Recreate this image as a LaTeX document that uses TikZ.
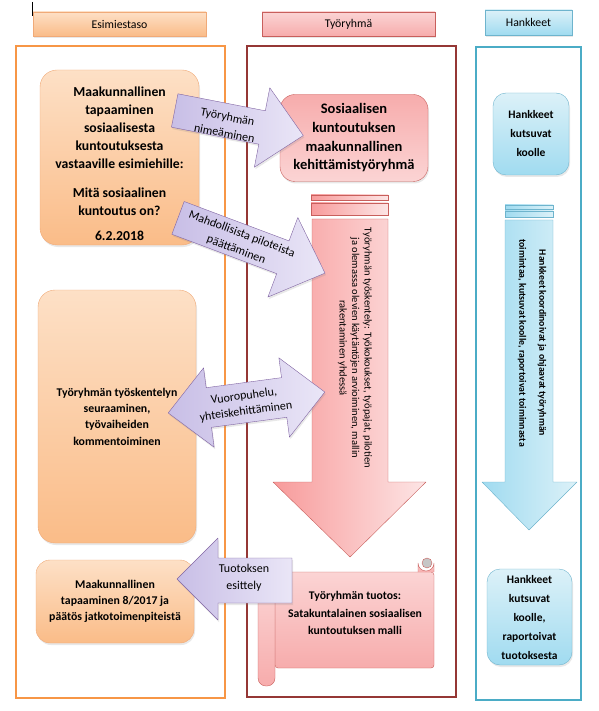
\documentclass[tikz,border=0pt]{standalone}
\usepackage{fontspec}
\setmainfont{Carlito}
\usepackage{tikz}
\usepackage{xcolor}
\usetikzlibrary{shadows, positioning}
\definecolor{esiline}{RGB}{247,150,70}
\definecolor{esiborder}{RGB}{240,170,120}
\definecolor{esitop}{RGB}{253,224,198}
\definecolor{esibot}{RGB}{250,188,136}
\definecolor{tyoline}{RGB}{149,55,53}
\definecolor{tyoborder}{RGB}{200,95,92}
\definecolor{tyotop}{RGB}{247,172,172}
\definecolor{tyobot}{RGB}{251,212,212}
\definecolor{hankline}{RGB}{75,172,198}
\definecolor{hankborder}{RGB}{110,180,205}
\definecolor{hanktop}{RGB}{220,241,248}
\definecolor{hankbot}{RGB}{160,219,240}
\definecolor{liline}{RGB}{128,100,162}
\definecolor{lidark}{RGB}{200,190,230}
\definecolor{lilight}{RGB}{234,230,247}
% block arrow: style, centre, angle, length, shaft width, head width, head length
\newcommand{\blkarrow}[7]{%
\draw[#1, shift={#2}, rotate=#3] (-#4/2,-#5/2) -- (#4/2-#7,-#5/2) -- (#4/2-#7,-#6/2)
  -- (#4/2,0) -- (#4/2-#7,#6/2) -- (#4/2-#7,#5/2) -- (-#4/2,#5/2) -- cycle;}

\begin{document}
\begin{tikzpicture}[x=1pt,y=-1pt,
  txt/.style={font=\fontsize{11.8}{16.3}\selectfont\bfseries, align=center},
  thin txt/.style={font=\fontsize{12}{16.5}\selectfont, align=center},
  head txt/.style={font=\fontsize{11.8}{14}\selectfont},
  shade/.style={drop shadow={opacity=0.18, shadow xshift=1pt, shadow yshift=-2pt}},
  esihead/.style={draw=esiborder, top color=esitop, bottom color=esibot, shade, head txt},
  tyohead/.style={draw=tyoborder, top color=tyobot, bottom color=tyotop, shade, head txt},
  hankhead/.style={draw=hankborder, top color=hanktop, bottom color=hankbot, shade, head txt},
  esibox/.style={draw=esiborder, top color=esitop, bottom color=esibot, rounded corners=17pt, shade, txt},
  tyobox/.style={draw=tyoborder, top color=tyotop, bottom color=tyobot, rounded corners=15pt, shade, txt},
  hankbox/.style={draw=hankborder, top color=hanktop, bottom color=hankbot, rounded corners=13pt, shade, txt},
  liarrow/.style={draw=liline, left color=lidark, right color=lilight, line join=round, shade},
  scrollpart/.style={draw=tyoborder, top color=tyobot, bottom color=tyotop},
]
\useasboundingbox (0,0) rectangle (598,711);
\draw[black, line width=0.8pt] (32,2) -- (32,16);

% lanes
\draw[esiline, line width=1.6pt] (16,46) rectangle (225,698);
\draw[tyoline, line width=1.6pt] (247,46) rectangle (456,697);
\draw[hankline, line width=1.6pt] (476,47) rectangle (581,700);
\node[esihead, minimum width=173pt, minimum height=24pt] (esi) at (119.5,24) {Esimiestaso};
\node[tyohead, minimum width=173pt, minimum height=24pt] (tyo) at (348.5,24) {Työryhmä};
\node[hankhead, minimum width=87pt, minimum height=25pt] (hank) at (528.5,22.5) {Hankkeet};

% left lane
\node[esibox, minimum width=159pt, minimum height=175pt] (meet) at (119.5,157.5) {};
\node[txt, font=\fontsize{13.7}{18}\selectfont\bfseries] (meettxt) at (119.5,164) {Maakunnallinen\\tapaaminen\\sosiaalisesta\\kuntoutuksesta\\vastaaville esimiehille:\\[11pt]Mitä sosiaalinen\\kuntoutus on?\\[7pt]6.2.2018};
\node[esibox, minimum width=158pt, minimum height=253pt] (follow) at (117,416.5) {Työryhmän työskentelyn\\seuraaminen,\\työvaiheiden\\kommentoiminen};
\node[esibox, minimum width=158pt, minimum height=83pt, rounded corners=14pt] (final) at (115,601.5) {Maakunnallinen\\tapaaminen 8/2017 ja\\päätös jatkotoimenpiteistä};

% middle lane
\node[tyobox, minimum width=148pt, minimum height=87pt, font=\fontsize{14.5}{18.7}\selectfont\bfseries] (group) at (354,138) {Sosiaalisen\\kuntoutuksen\\maakunnallinen\\kehittämistyöryhmä};
\draw[draw=tyoborder, left color=tyotop!90!red, right color=tyobot!60!white] (311,195) rectangle (388,200);
\draw[draw=tyoborder, left color=tyotop!90!red, right color=tyobot!60!white] (311,203) rectangle (388,215);
\draw[draw=tyoborder, left color=tyotop!90!red, right color=tyobot!60!white, line join=round] (312,219) -- (388,219) -- (388,482) -- (426,482)
  -- (350,557) -- (273,482) -- (312,482) -- cycle;
\node[font=\fontsize{10.5}{12.5}\selectfont, align=center, rotate=-90] (worktxt) at (355,348) {Työryhmän työskentely: Työkokoukset, työpajat, pilotien\\ja olemassa olevien käytäntöjen arvioiminen, mallin\\rakentaminen yhdessä};

% scroll
\draw[scrollpart, rounded corners=3pt] (275,572) rectangle (434,668);
\draw[scrollpart] (418,572) -- (418,563) arc (180:0:8) -- (434,572);
\draw[draw=tyoborder, fill=gray!45] (427,563) circle (5);
\draw[scrollpart, rounded corners=8pt] (258,580) rectangle (275,686);
\node[txt, font=\fontsize{11.7}{17.5}\selectfont\bfseries] (output) at (355,613) {Työryhmän tuotos:\\Satakuntalainen sosiaalisen\\kuntoutuksen malli};

% right lane
\node[hankbox, minimum width=76pt, minimum height=82pt, font=\fontsize{11.5}{19}\selectfont\bfseries] (invite) at (531,134) {Hankkeet\\kutsuvat\\koolle};
\draw[draw=hankborder, left color=hankbot, right color=hanktop] (505,205) rectangle (553,209);
\draw[draw=hankborder, left color=hankbot, right color=hanktop] (505,211) rectangle (553,217);
\draw[draw=hankborder, left color=hankbot, right color=hanktop, line join=round] (505,220) -- (553,220) -- (553,482) -- (577,482)
  -- (529,530) -- (482,482) -- (505,482) -- cycle;
\node[font=\fontsize{9.8}{20}\selectfont\bfseries, align=center, rotate=-90] (coordtxt) at (532,343) {Hankkeet koordinoivat ja ohjaavat työryhmän\\toimintaa, kutsuvat koolle, raportoivat toiminnasta};
\node[hankbox, minimum width=85pt, minimum height=96pt, font=\fontsize{11.5}{19}\selectfont\bfseries] (report) at (529.5,617) {Hankkeet\\kutsuvat\\koolle,\\raportoivat\\tuotoksesta};

% arrows between lanes
\blkarrow{liarrow}{(239,123)}{-11}{131}{34}{81}{42}
\node[thin txt, rotate=-11] (name) at (226,125) {Työryhmän\\nimeäminen};
\blkarrow{liarrow}{(251.5,245.5)}{-20.6}{157}{35}{85}{45}
\node[thin txt, rotate=-20.6] (pilot) at (239,242) {Mahdollisista piloteista\\päättäminen};
\draw[liarrow, shift={(246.5,402.5)}, rotate=7.6] (-79,0) -- (-38,-40) -- (-38,-20) -- (38,-20) -- (38,-40) -- (79,0)
  -- (38,40) -- (38,20) -- (-38,20) -- (-38,40) -- cycle;
\node[thin txt, font=\fontsize{12}{15.5}\selectfont, rotate=7.6] (dialog) at (245,404) {Vuoropuhelu,\\yhteiskehittäminen};
\draw[liarrow] (292,558) -- (218,558) -- (218,538) -- (177,579) -- (218,620) -- (218,603) -- (292,603) -- cycle;
\node[thin txt, font=\fontsize{12}{17}\selectfont] (present) at (244,578) {Tuotoksen\\esittely};
\end{tikzpicture}
\end{document}
